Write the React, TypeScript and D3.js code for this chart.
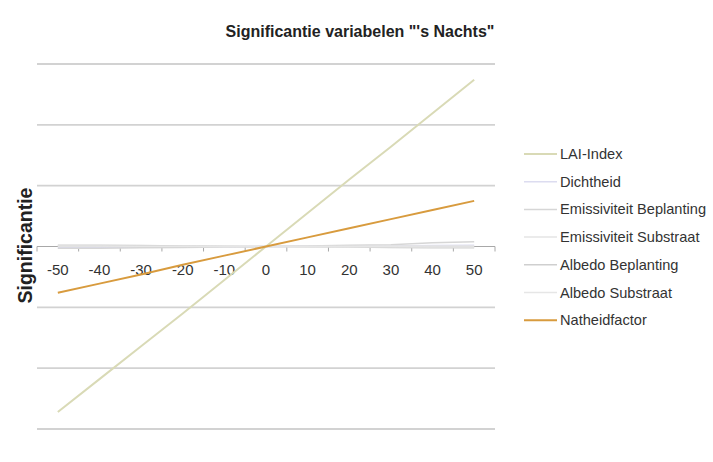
import React from "react";
import * as d3 from "d3";

const categories = [-50, -40, -30, -20, -10, 0, 10, 20, 30, 40, 50];
const seriesNames = [
  "LAI-Index",
  "Dichtheid",
  "Emissiviteit Beplanting",
  "Emissiviteit Substraat",
  "Albedo Beplanting",
  "Albedo Substraat",
  "Natheidfactor",
];
const laiIndex = [-2.72, -2.18, -1.64, -1.1, -0.55, 0, 0.55, 1.1, 1.64, 2.19, 2.74];
const dichtheid = [-0.02, -0.015, -0.01, -0.008, -0.004, 0, 0.004, 0.008, 0.01, 0.015, 0.02];
const emissiviteitBeplanting = [-0.03, -0.03, -0.02, -0.015, -0.01, 0, 0.01, 0.02, 0.03, 0.06, 0.08];
const emissiviteitSubstraat = [0.01, 0.01, 0.01, 0.005, 0, 0, 0, 0.005, 0.01, 0.01, 0.01];
const albedoBeplanting = [0.02, 0.02, 0.015, 0.01, 0.005, 0, -0.005, -0.01, -0.015, -0.02, -0.02];
const albedoSubstraat = [0.01, 0.008, 0.006, 0.004, 0.002, 0, -0.002, -0.004, -0.006, -0.008, -0.01];
const natheidfactor = [-0.76, -0.61, -0.46, -0.3, -0.15, 0, 0.15, 0.3, 0.45, 0.6, 0.75];
const yGridValues = [-3, -2, -1, 1, 2, 3];

const seriesValues = [
  laiIndex,
  dichtheid,
  emissiviteitBeplanting,
  emissiviteitSubstraat,
  albedoBeplanting,
  albedoSubstraat,
  natheidfactor,
];
const seriesColors = ["#d9dab6", "#dcdcf0", "#d6d6d6", "#e4e4e4", "#cfcfcf", "#e6e6e6", "#d89b3e"];
const seriesWidths = [2, 1.5, 1.5, 1.5, 1.5, 1.5, 2];
const drawOrder = [1, 2, 3, 4, 5, 0, 6];

export default function App() {
  const W = 713;
  const H = 462;
  const left = 37;
  const right = 495;
  const x = d3.scaleBand<number>().domain(categories).range([left, right]).paddingInner(0).paddingOuter(0);
  const y = d3.scaleLinear().domain([-3, 3]).range([429, 64]);
  const cx = (c: number) => (x(c) as number) + x.bandwidth() / 2;
  const line = d3
    .line<number>()
    .x((_, i) => cx(categories[i]))
    .y((v) => y(v));
  const font = "'Liberation Sans', Arial, Helvetica, sans-serif";
  const zeroY = y(0);
  const boundaries = categories.map((c) => x(c) as number).concat([right]);

  return (
    <svg
      width={W}
      height={H}
      style={{ position: "absolute", left: 0, top: 0, background: "#fff" }}
      fontFamily={font}
    >
      <rect x={0} y={0} width={W} height={H} fill="#fff" />
      <text x={360} y={37} textAnchor="middle" fontSize={16} fontWeight="bold" fill="#222">
        Significantie variabelen "'s Nachts"
      </text>
      {yGridValues.map((v) => (
        <line key={v} x1={left} x2={right} y1={y(v)} y2={y(v)} stroke="#d2d2d2" strokeWidth={1.8} />
      ))}
      <line x1={left} x2={right} y1={zeroY} y2={zeroY} stroke="#a8a8a8" strokeWidth={1.2} />
      {boundaries.map((b, i) => (
        <line key={i} x1={b} x2={b} y1={zeroY} y2={zeroY + 5} stroke="#a8a8a8" strokeWidth={1} />
      ))}
      {categories.map((c) => (
        <text key={c} x={cx(c)} y={275} textAnchor="middle" fontSize={15} fill="#333">
          {c}
        </text>
      ))}
      <text
        transform={`translate(32,${zeroY - 1}) rotate(-90)`}
        textAnchor="middle"
        fontSize={19.5}
        fontWeight="bold"
        fill="#222"
      >
        Significantie
      </text>
      {drawOrder.map((si) => (
        <path
          key={si}
          d={line(seriesValues[si]) || ""}
          fill="none"
          stroke={seriesColors[si]}
          strokeWidth={seriesWidths[si]}
        />
      ))}
      {seriesNames.map((name, i) => {
        const ly = 154 + i * 27.7;
        return (
          <g key={name}>
            <line x1={524} x2={557} y1={ly} y2={ly} stroke={seriesColors[i]} strokeWidth={seriesWidths[i]} />
            <text x={560} y={ly + 5} fontSize={14.6} fill="#333">
              {name}
            </text>
          </g>
        );
      })}
    </svg>
  );
}
